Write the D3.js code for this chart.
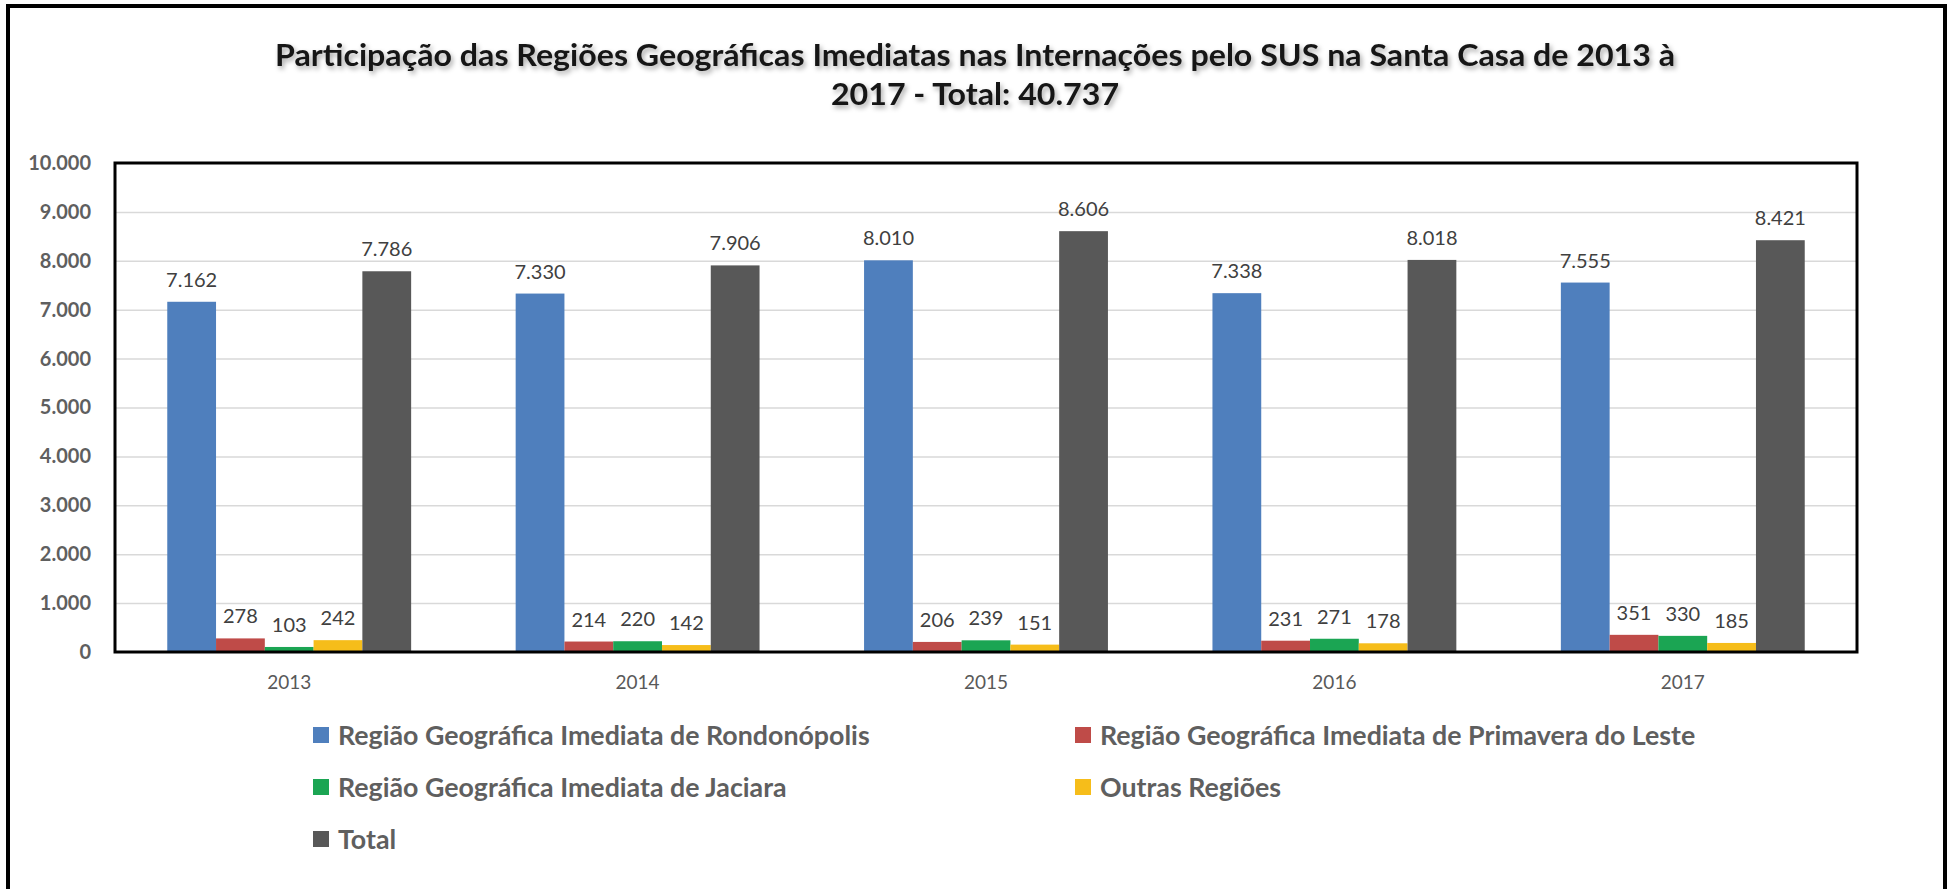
<!DOCTYPE html>
<html>
<head>
<meta charset="utf-8">
<script src="https://cdn.jsdelivr.net/npm/d3@7/dist/d3.min.js"></script>
<style>
  body { margin: 0; background: #fff; }
  text { font-family: Lato, "Open Sans", sans-serif; }
</style>
</head>
<body>
<div id="chart"></div>
<script>
// Tamanho da imagem
const width = 1955;
const height = 889;

// Dados
const anos = ["2013", "2014", "2015", "2016", "2017"];
const series = [
  "Região Geográfica Imediata de Rondonópolis",
  "Região Geográfica Imediata de Primavera do Leste",
  "Região Geográfica Imediata de Jaciara",
  "Outras Regiões",
  "Total"
];
const rondonopolis = [7162, 7330, 8010, 7338, 7555];
const primavera = [278, 214, 206, 231, 351];
const jaciara = [103, 220, 239, 271, 330];
const outras = [242, 142, 151, 178, 185];
const total = [7786, 7906, 8606, 8018, 8421];
const cores = ["#4f7fbd", "#bf4b48", "#1ba553", "#f6bd1a", "#585858"];
const yTicks = [0, 1000, 2000, 3000, 4000, 5000, 6000, 7000, 8000, 9000, 10000];
const tituloLinhas = [
  "Participação das Regiões Geográficas Imediatas nas Internações pelo SUS na Santa Casa de 2013 à",
  "2017 - Total: 40.737"
];

const valores = [rondonopolis, primavera, jaciara, outras, total];

// formato brasileiro: 7.162
const ptBR = d3.formatLocale({ decimal: ",", thousands: ".", grouping: [3], currency: ["R$", ""] });
const fmt = ptBR.format(",d");

const plot = { left: 115, right: 1857, top: 163, bottom: 652 };

const svg = d3.select("#chart")
  .append("svg")
  .attr("width", width)
  .attr("height", height);

svg.append("rect")
  .attr("width", width)
  .attr("height", height)
  .attr("fill", "#fff");

// sombra do titulo
const defs = svg.append("defs");
const sombra = defs.append("filter")
  .attr("id", "sombra")
  .attr("x", "-5%").attr("y", "-50%")
  .attr("width", "110%").attr("height", "200%");
sombra.append("feDropShadow")
  .attr("dx", 2).attr("dy", 3)
  .attr("stdDeviation", 2.5)
  .attr("flood-color", "#000")
  .attr("flood-opacity", 0.35);

// moldura externa
svg.append("rect")
  .attr("x", 8)
  .attr("y", 6)
  .attr("width", 1937)
  .attr("height", 920)
  .attr("fill", "none")
  .attr("stroke", "#000")
  .attr("stroke-width", 4);

// titulo (fonte um pouco condensada, como a Calibri do original)
const fsTitulo = 31;
const titulo = svg.append("g").attr("filter", "url(#sombra)");
const linhas = titulo.selectAll("text")
  .data(tituloLinhas)
  .enter()
  .append("text")
  .attr("x", 975)
  .attr("y", (d, i) => 66 + i * 39)
  .attr("text-anchor", "middle")
  .attr("font-size", fsTitulo)
  .attr("font-weight", "bold")
  .attr("fill", "#161616")
  .text(d => d);

const larguras = linhas.nodes().map(n => n.getComputedTextLength());
const fator = 1400 / larguras[0];
linhas
  .attr("textLength", (d, i) => larguras[i] * fator)
  .attr("lengthAdjust", "spacingAndGlyphs");

// escalas
const x0 = d3.scaleBand()
  .domain(anos)
  .range([plot.left, plot.right])
  .paddingInner(0.3)
  .paddingOuter(0.15);

const x1 = d3.scaleBand()
  .domain(d3.range(series.length))
  .range([0, x0.bandwidth()]);

const y = d3.scaleLinear()
  .domain([0, 10000])
  .range([plot.bottom, plot.top]);

// linhas de grade
svg.append("g")
  .attr("transform", `translate(${plot.left},0)`)
  .call(d3.axisLeft(y).tickValues(yTicks.slice(1, -1)).tickSize(-(plot.right - plot.left)).tickFormat(""))
  .call(g => g.select(".domain").remove())
  .call(g => g.selectAll("line").attr("stroke", "#d9d9d9").attr("stroke-width", 1.5));

// eixo y
svg.append("g")
  .attr("transform", `translate(${plot.left},0)`)
  .call(d3.axisLeft(y).tickValues(yTicks).tickFormat(fmt).tickSize(0).tickPadding(24))
  .call(g => g.select(".domain").remove())
  .call(g => g.selectAll("text")
    .attr("font-family", "Lato, sans-serif")
    .attr("font-size", 20)
    .attr("font-weight", "bold")
    .attr("fill", "#5f5f5f"));

// barras
const grupos = svg.selectAll(".ano")
  .data(anos)
  .enter()
  .append("g")
  .attr("class", "ano")
  .attr("transform", d => `translate(${x0(d)},0)`);

grupos.selectAll("rect")
  .data((ano, j) => valores.map((v, i) => ({ serie: i, valor: v[j] })))
  .enter()
  .append("rect")
  .attr("x", d => x1(d.serie))
  .attr("y", d => y(d.valor))
  .attr("width", x1.bandwidth())
  .attr("height", d => y(0) - y(d.valor))
  .attr("fill", d => cores[d.serie]);

grupos.selectAll(".rotulo")
  .data((ano, j) => valores.map((v, i) => ({ serie: i, valor: v[j] })))
  .enter()
  .append("text")
  .attr("class", "rotulo")
  .attr("x", d => x1(d.serie) + x1.bandwidth() / 2)
  .attr("y", d => y(d.valor) - 15)
  .attr("text-anchor", "middle")
  .attr("font-size", 20)
  .attr("fill", "#404040")
  .text(d => fmt(d.valor));

// eixo x
svg.append("g")
  .attr("transform", `translate(0,${plot.bottom})`)
  .call(d3.axisBottom(x0).tickSize(0).tickPadding(24))
  .call(g => g.select(".domain").remove())
  .call(g => g.selectAll("text")
    .attr("font-family", "Lato, sans-serif")
    .attr("font-size", 19)
    .attr("fill", "#595959"));

// moldura da area de plotagem
svg.append("rect")
  .attr("x", plot.left)
  .attr("y", plot.top)
  .attr("width", plot.right - plot.left)
  .attr("height", plot.bottom - plot.top)
  .attr("fill", "none")
  .attr("stroke", "#000")
  .attr("stroke-width", 3);

// legenda (duas colunas)
const legX = [313, 1075];
const legY = [735, 787, 839];

const legenda = svg.selectAll(".leg")
  .data(series)
  .enter()
  .append("g")
  .attr("class", "leg")
  .attr("transform", (d, i) => `translate(${legX[i % 2]},${legY[Math.floor(i / 2)]})`);

legenda.append("rect")
  .attr("x", 0)
  .attr("y", -8)
  .attr("width", 16)
  .attr("height", 16)
  .attr("fill", (d, i) => cores[i]);

const legTextos = legenda.append("text")
  .attr("x", 25)
  .attr("dy", "0.36em")
  .attr("font-size", 22)
  .attr("font-weight", "bold")
  .attr("fill", "#5f5f5f")
  .text(d => d);

const fsLeg = 22 * 532 / legTextos.nodes()[0].getComputedTextLength();
legTextos.attr("font-size", fsLeg);
</script>
</body>
</html>
